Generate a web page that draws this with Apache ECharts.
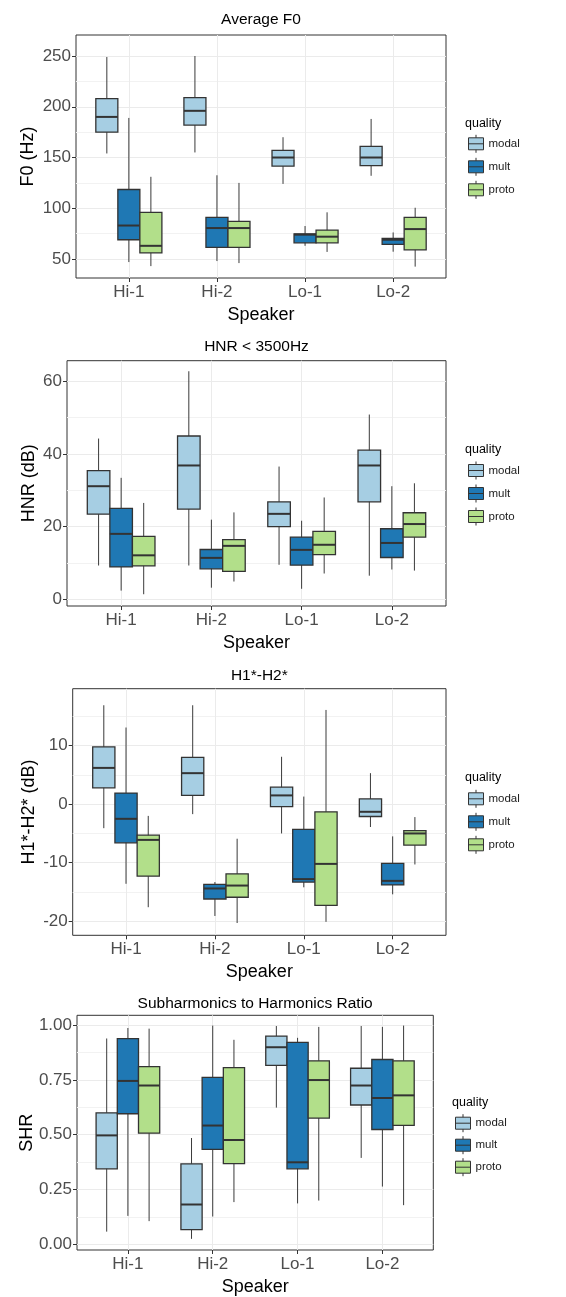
<!DOCTYPE html>
<html>
<head>
<meta charset="utf-8">
<script src="https://cdn.jsdelivr.net/npm/echarts@6/dist/echarts.min.js"></script>
<style>
html,body{margin:0;padding:0;background:#fff;}
#chart{width:566px;height:1297px;}
</style>
</head>
<body>
<div id="chart"></div>
<script>
// ---------------- DATA ----------------
const categories = ['Hi-1', 'Hi-2', 'Lo-1', 'Lo-2'];
const qualities = ['modal', 'mult', 'proto'];

// each box: [min, Q1, median, Q3, max], one per speaker
const f0Modal = [[154, 175, 190, 208, 249], [155, 182, 196, 209, 250], [124, 141.5, 150, 157, 170], [132, 142, 150, 161, 188]];
const f0Mult  = [[47, 69, 83, 118.5, 189], [48, 61.5, 80.5, 91, 132.5], [63, 66, 74, 74.8, 82.5], [57.2, 64.4, 69, 70.3, 76.2]];
const f0Proto = [[43, 56, 63, 96, 131], [46, 61.5, 80.5, 87, 125], [57, 66, 72, 78.5, 96], [42.5, 59, 79.5, 91, 100.5]];
const f0Ticks = [50, 100, 150, 200, 250];
const f0Minor = [75, 125, 175, 225];

const hnrModal = [[9.3, 23.4, 31.1, 35.4, 44.2], [9.3, 24.8, 36.8, 44.9, 62.7], [9.5, 20, 23.5, 26.8, 36.5], [6.5, 26.8, 36.8, 41, 50.8]];
const hnrMult  = [[2.4, 8.9, 18, 25, 33.4], [3.2, 8.4, 11.4, 13.7, 21.9], [2.9, 9.4, 13.6, 17.1, 21.6], [8.2, 11.5, 15.5, 19.4, 31.1]];
const hnrProto = [[1.4, 9.2, 12.1, 17.3, 26.5], [4.9, 7.7, 14.7, 16.4, 23.9], [7.1, 12.3, 15, 18.7, 28], [7.9, 17.1, 20.7, 23.8, 31.9]];
const hnrTicks = [0, 20, 40, 60];
const hnrMinor = [10, 30, 50];

const h1h2Modal = [[-4.1, 2.8, 6.2, 9.8, 16.9], [-1.7, 1.5, 5.3, 8, 16.9], [-5, -0.4, 1.5, 2.9, 8.1], [-3.9, -2.1, -1.3, 0.9, 5.3]];
const h1h2Mult  = [[-13.6, -6.6, -2.5, 1.9, 13.1], [-19.1, -16.2, -14.4, -13.7, -13.3], [-14.2, -13.3, -12.8, -4.3, 1.3], [-15.4, -13.8, -13.1, -10.1, -5.5]];
const h1h2Proto = [[-17.6, -12.3, -6.1, -5.3, -2], [-20.3, -15.9, -13.9, -11.9, -5.9], [-20.1, -17.3, -10.2, -1.3, 16.1], [-10.3, -7, -5, -4.5, -2.2]];
const h1h2Ticks = [-20, -10, 0, 10];
const h1h2Minor = [-15, -5, 5, 15];

const shrModal = [[0.057, 0.344, 0.497, 0.60, 0.94], [0.024, 0.066, 0.181, 0.367, 0.485], [0.624, 0.817, 0.9, 0.951, 0.997], [0.394, 0.636, 0.725, 0.804, 0.997]];
const shrMult  = [[0.129, 0.596, 0.746, 0.939, 0.988], [0.126, 0.433, 0.542, 0.762, 0.999], [0.186, 0.344, 0.374, 0.922, 0.943], [0.263, 0.524, 0.668, 0.844, 0.993]];
const shrProto = [[0.105, 0.507, 0.725, 0.811, 0.985], [0.192, 0.368, 0.476, 0.807, 0.934], [0.199, 0.576, 0.75, 0.838, 0.993], [0.178, 0.543, 0.68, 0.838, 0.999]];
const shrTicks = [0, 0.25, 0.5, 0.75, 1];
const shrMinor = [0.125, 0.375, 0.625, 0.875];

// ---------------- LAYOUT / STYLE ----------------
const colors = ['#A6CEE3', '#1F78B4', '#B2DF8A'];
const DODGE = [-0.25, 0, 0.25];
const BOX_W = 0.25;
const FONT = '"Liberation Sans", Arial, sans-serif';

const panels = [
  {title: 'Average F0', yName: 'F0 (Hz)', sets: [f0Modal, f0Mult, f0Proto], ticks: f0Ticks, minor: f0Minor,
   yMin: 31.3, yMax: 270.7, dec: 0, grid: {left: 76, top: 35, width: 370, height: 243}, titleY: 19, nameGap: 39,
   legLeft: 468, legTop: 134.3, legGap: 4, qLeft: 465, qY: 124},
  {title: 'HNR < 3500Hz', yName: 'HNR (dB)', sets: [hnrModal, hnrMult, hnrProto], ticks: hnrTicks, minor: hnrMinor,
   yMin: -1.83, yMax: 65.6, dec: 0, grid: {left: 67, top: 360.7, width: 379, height: 245.3}, titleY: 346, nameGap: 29,
   legLeft: 468, legTop: 461, legGap: 4, qLeft: 465, qY: 450},
  {title: 'H1*-H2*', yName: 'H1*-H2* (dB)', sets: [h1h2Modal, h1h2Mult, h1h2Proto], ticks: h1h2Ticks, minor: h1h2Minor,
   yMin: -22.4, yMax: 19.73, dec: 0, grid: {left: 72.7, top: 688.7, width: 373.3, height: 246.6}, titleY: 675, nameGap: 35,
   legLeft: 468, legTop: 789.3, legGap: 4, qLeft: 465, qY: 778.3},
  {title: 'Subharmonics to Harmonics Ratio', yName: 'SHR', sets: [shrModal, shrMult, shrProto], ticks: shrTicks, minor: shrMinor,
   yMin: -0.027, yMax: 1.046, dec: 2, grid: {left: 77, top: 1015.3, width: 356.3, height: 239}, titleY: 1002.7, nameGap: 41,
   legLeft: 455, legTop: 1113.7, legGap: 3, qLeft: 452, qY: 1103.3}
];

function renderBox(params, api) {
  const x = api.value(0);
  const pMin = api.coord([x, api.value(1)]);
  const pQ1 = api.coord([x, api.value(2)]);
  const pMed = api.coord([x, api.value(3)]);
  const pQ3 = api.coord([x, api.value(4)]);
  const pMax = api.coord([x, api.value(5)]);
  const half = api.size([BOX_W, 0])[0] / 2;
  const cx = pMed[0];
  const fill = api.visual('color');
  return {
    type: 'group',
    children: [
      {type: 'line', shape: {x1: cx, y1: pMax[1], x2: cx, y2: pMin[1]}, style: {stroke: '#3a3a3a', lineWidth: 1}},
      {type: 'rect', shape: {x: cx - half, y: pQ3[1], width: half * 2, height: pQ1[1] - pQ3[1]},
       style: {fill: fill, stroke: '#333333', lineWidth: 1.3}},
      {type: 'line', shape: {x1: cx - half, y1: pMed[1], x2: cx + half, y2: pMed[1]}, style: {stroke: '#333333', lineWidth: 2}}
    ]
  };
}

const legendIcon = 'path://M0,3L15,3L15,15L0,15Z M0,9L15,9 M7.5,0L7.5,3 M7.5,15L7.5,18';

const option = {
  backgroundColor: '#fff',
  animation: false,
  textStyle: {fontFamily: FONT},
  title: [], grid: [], xAxis: [], yAxis: [], legend: [], series: []
};

panels.forEach((p, pi) => {
  option.grid.push(Object.assign({show: true, borderColor: '#333333', borderWidth: 1, backgroundColor: '#fff', containLabel: false}, p.grid));
  const cx = p.grid.left + p.grid.width / 2;
  option.title.push({text: p.title, left: cx, top: p.titleY - 7, textAlign: 'center', padding: 0,
    textStyle: {fontSize: 15.5, fontWeight: 'normal', color: '#000', fontFamily: FONT}});
  option.title.push({text: 'quality', left: p.qLeft, top: p.qY - 7, padding: 0,
    textStyle: {fontSize: 12.5, fontWeight: 'normal', color: '#000', fontFamily: FONT}});

  option.xAxis.push({
    type: 'value', gridIndex: pi, min: 0.4, max: 4.6, position: 'bottom',
    name: 'Speaker', nameLocation: 'middle', nameGap: 28, nameMoveOverlap: false,
    nameTextStyle: {fontSize: 18, color: '#000', fontFamily: FONT},
    axisLine: {show: false, onZero: false},
    axisTick: {show: true, length: 4, customValues: [1, 2, 3, 4], lineStyle: {color: '#333333'}},
    axisLabel: {customValues: [1, 2, 3, 4], formatter: v => categories[Math.round(v) - 1],
      fontSize: 17, color: '#4D4D4D', margin: 6, fontFamily: FONT},
    splitLine: {show: true, lineStyle: {color: '#EBEBEB', width: 1}}
  });
  option.yAxis.push({
    type: 'value', gridIndex: pi, min: p.yMin, max: p.yMax, position: 'left',
    name: p.yName, nameLocation: 'middle', nameGap: p.nameGap, nameRotate: 90, nameMoveOverlap: false,
    nameTextStyle: {fontSize: 18, color: '#000', fontFamily: FONT},
    axisLine: {show: false, onZero: false},
    axisTick: {show: true, length: 4, customValues: p.ticks, lineStyle: {color: '#333333'}},
    axisLabel: {customValues: p.ticks, formatter: v => Number(v).toFixed(p.dec),
      fontSize: 17, color: '#4D4D4D', margin: 5, fontFamily: FONT},
    splitLine: {show: true, lineStyle: {color: '#EBEBEB', width: 1}}
  });
  option.yAxis.push({
    type: 'value', gridIndex: pi, min: p.yMin, max: p.yMax, position: 'left',
    axisLine: {show: false, onZero: false},
    axisTick: {show: false, customValues: p.minor},
    axisLabel: {show: false, customValues: p.minor},
    splitLine: {show: true, lineStyle: {color: '#F2F2F2', width: 1}}
  });
  option.legend.push({
    orient: 'vertical', left: p.legLeft, top: p.legTop, padding: 0,
    itemWidth: 15, itemHeight: 18, itemGap: p.legGap,
    data: qualities.map(q => ({name: q, icon: legendIcon})),
    itemStyle: {borderColor: '#333333', borderWidth: 1},
    textStyle: {fontSize: 11.5, color: '#1A1A1A', fontFamily: FONT, padding: [0, 0, 0, 0]},
    selectedMode: false
  });
  qualities.forEach((q, qi) => {
    option.series.push({
      type: 'custom', name: q,
      xAxisIndex: pi, yAxisIndex: pi * 2,
      itemStyle: {color: colors[qi]},
      encode: {x: 0, y: [1, 2, 3, 4, 5]},
      renderItem: renderBox,
      data: p.sets[qi].map((b, i) => [i + 1 + DODGE[qi]].concat(b))
    });
  });
});

const chart = echarts.init(document.getElementById('chart'), null, {renderer: 'canvas'});
chart.setOption(option);
</script>
</body>
</html>
